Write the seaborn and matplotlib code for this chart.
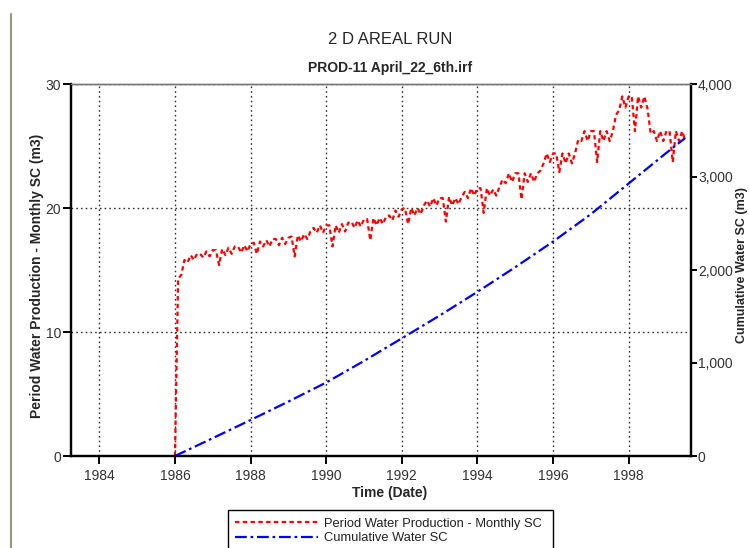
import numpy as np
import pandas as pd
import matplotlib
matplotlib.use("Agg")
import matplotlib.pyplot as plt
from matplotlib.lines import Line2D
import seaborn as sns

# Monthly water production (m3), one list per calendar year, Jan..Dec
rate_1986 = [14.3, 14.6, 15.8, 15.6, 16.2, 15.8, 16.3, 16.3, 16.0, 16.5, 16.1, 16.6]
rate_1987 = [16.6, 15.4, 16.7, 16.2, 16.8, 16.3, 16.9, 16.9, 16.4, 17.0, 16.5, 17.1]
rate_1988 = [17.2, 16.3, 17.3, 16.9, 17.4, 16.9, 17.5, 17.5, 17.0, 17.6, 17.1, 17.6]
rate_1989 = [17.7, 16.1, 17.8, 17.3, 17.9, 17.5, 18.1, 18.4, 18.0, 18.6, 18.0, 18.6]
rate_1990 = [18.6, 16.9, 18.6, 18.0, 18.7, 18.1, 18.8, 18.9, 18.4, 19.0, 18.5, 19.1]
rate_1991 = [19.1, 17.4, 19.2, 18.6, 19.2, 18.7, 19.3, 19.4, 19.0, 19.8, 19.3, 19.9]
rate_1992 = [20.0, 18.7, 20.0, 19.4, 20.0, 19.5, 20.2, 20.6, 20.1, 20.8, 20.2, 20.8]
rate_1993 = [20.8, 18.9, 20.9, 20.2, 20.8, 20.3, 20.9, 21.3, 20.8, 21.6, 21.0, 21.6]
rate_1994 = [21.6, 19.6, 21.6, 21.0, 21.5, 21.0, 21.7, 22.3, 22.0, 22.8, 22.1, 22.8]
rate_1995 = [22.8, 20.7, 22.8, 22.1, 22.8, 22.1, 22.8, 23.0, 23.6, 24.4, 23.7, 24.4]
rate_1996 = [24.4, 22.9, 24.4, 23.6, 24.4, 23.6, 24.4, 25.5, 25.4, 26.2, 25.4, 26.2]
rate_1997 = [26.2, 23.7, 26.2, 25.4, 26.2, 25.4, 26.2, 27.5, 27.9, 29.0, 28.1, 29.0]
rate_1998 = [29.0, 26.2, 29.0, 28.1, 29.0, 28.0, 26.0, 26.2, 25.4, 26.2, 25.4, 26.2]
rate_1999 = [26.2, 23.7, 26.2, 25.4, 26.2, 25.4]
start_year = 1986
start_rate = 0.0

# Cumulative water production (m3)
cum_years = [1986.0, 1987.0, 1988.0, 1989.0, 1990.0, 1991.0, 1992.0, 1993.0,
             1994.0, 1995.0, 1996.0, 1997.0, 1998.0, 1999.0, 1999.5]
cum_water = [0, 192, 387, 585, 790, 1022, 1265, 1510,
             1765, 2030, 2305, 2600, 2930, 3260, 3420]

left_ticks = [0, 10, 20, 30]
right_ticks = [0, 1000, 2000, 3000, 4000]
year_ticks = [1984, 1986, 1988, 1990, 1992, 1994, 1996, 1998]

title = "2 D AREAL RUN"
subtitle = "PROD-11 April_22_6th.irf"
xlabel = "Time (Date)"
ylabel_left = "Period Water Production - Monthly SC (m3)"
ylabel_right = "Cumulative Water SC (m3)"
label_rate = "Period Water Production - Monthly SC"
label_cum = "Cumulative Water SC"

monthly = (rate_1986 + rate_1987 + rate_1988 + rate_1989 + rate_1990 + rate_1991
           + rate_1992 + rate_1993 + rate_1994 + rate_1995 + rate_1996 + rate_1997
           + rate_1998 + rate_1999)
# each monthly total is stamped at the end of its month
t_rate = [start_year] + [start_year + (i + 1) / 12 for i in range(len(monthly))]
df_rate = pd.DataFrame({"t": t_rate, "rate": [start_rate] + monthly})
df_cum = pd.DataFrame({"t": cum_years, "cum": cum_water})

sns.set_style("white")
plt.rcParams["font.family"] = ["Liberation Sans", "DejaVu Sans"]

W, H = 749, 548
fig = plt.figure(figsize=(W / 100, H / 100), dpi=100)
ax = fig.add_axes([71 / W, 1 - 456 / H, (691 - 71) / W, (456 - 84) / H])
ax2 = ax.twinx()

red_ls = (0, (2.0, 1.5))
blue_ls = (0, (5.3, 1.7, 1.2, 1.7))
sns.lineplot(data=df_rate, x="t", y="rate", ax=ax, color="#ff0000",
             linewidth=1.6, linestyle=red_ls, sort=False, estimator=None)
sns.lineplot(data=df_cum, x="t", y="cum", ax=ax2, color="#0000ff",
             linewidth=1.6, linestyle=blue_ls, sort=False, estimator=None)

ax.set_xlim(1983.25, 1999.65)
ax.set_ylim(0, 30)
ax2.set_ylim(0, 4000)
ax.set_xticks(year_ticks)
ax.set_xticklabels([str(y) for y in year_ticks])
ax.set_yticks(left_ticks)
ax.set_yticklabels([str(v) for v in left_ticks])
ax2.set_yticks(right_ticks)
ax2.set_yticklabels([f"{v:,}" for v in right_ticks])

ax.grid(True, color="#333333", linestyle=(0, (1.2, 2.2)), linewidth=1.0)
ax.set_axisbelow(True)
ax.set_xlabel("")
ax.set_ylabel("")
ax2.set_ylabel("")

for a in (ax, ax2):
    for side in ("left", "right", "bottom"):
        a.spines[side].set_color("black")
        a.spines[side].set_linewidth(1.6)
    a.spines["top"].set_color("#777777")
    a.spines["top"].set_linewidth(1.0)

tick_color = "#333333"
ax.tick_params(axis="y", which="both", left=True, direction="out", length=6,
               width=1.4, color="black", labelsize=10, labelcolor=tick_color, pad=1)
ax.tick_params(axis="x", which="both", bottom=True, direction="out", length=6,
               width=1.4, color="black", labelsize=10, labelcolor=tick_color, pad=3)
ax2.tick_params(axis="y", which="both", right=True, direction="out", length=4,
                width=1.4, color="black", labelsize=10, labelcolor=tick_color, pad=1)

fig.text(390 / W, 1 - 39 / H, title, ha="center", va="center", fontsize=12)
fig.text(390 / W, 1 - 68 / H, subtitle, ha="center", va="center",
         fontsize=10, fontweight="bold")
fig.text(390 / W, 1 - 493 / H, xlabel, ha="center", va="center",
         fontsize=10, fontweight="bold")
fig.text(37.5 / W, 1 - 276 / H, ylabel_left, ha="center", va="center",
         rotation=90, fontsize=10, fontweight="bold")
fig.text(742 / W, 1 - 265 / H, ylabel_right, ha="center", va="center",
         rotation=90, fontsize=9, fontweight="bold")

handles = [Line2D([], [], color="#ff0000", linewidth=1.6, linestyle=red_ls),
           Line2D([], [], color="#0000ff", linewidth=1.6, linestyle=blue_ls)]
leg = fig.legend(handles, [label_rate, label_cum], loc="upper left",
                 bbox_to_anchor=(228 / W, 1 - 511 / H, (553 - 228) / W, 0.001),
                 mode="expand", fontsize=9.3, frameon=True, fancybox=False,
                 edgecolor="black", framealpha=1, borderpad=0.55,
                 handlelength=6.4, handletextpad=0.45, labelspacing=0.22,
                 borderaxespad=0)
leg.get_frame().set_linewidth(1.0)
for txt in leg.get_texts():
    txt.set_color("#222222")

# window edge on the left side
fig.add_artist(Line2D([10.5 / W, 10.5 / W], [0, 1 - 14 / H], color="#9a9484",
                      linewidth=1.5, transform=fig.transFigure))

fig.savefig("out.png", dpi=100)
